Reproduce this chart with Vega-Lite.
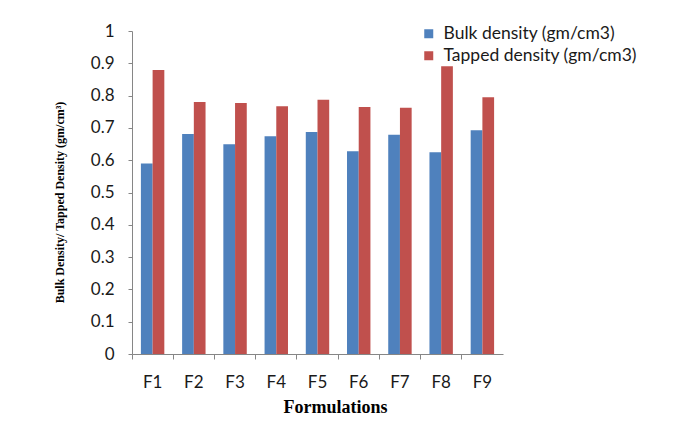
{
  "$schema": "https://vega.github.io/schema/vega-lite/v6.json",
  "width": 371,
  "height": 323,
  "autosize": {"type": "none"},
  "padding": {"left": 132, "top": 31, "right": 191, "bottom": 72},
  "background": "white",
  "data": {
    "values": [
      {"formulation": "F1", "series": "Bulk density (gm/cm3)", "value": 0.590},
      {"formulation": "F1", "series": "Tapped density (gm/cm3)", "value": 0.879},
      {"formulation": "F2", "series": "Bulk density (gm/cm3)", "value": 0.681},
      {"formulation": "F2", "series": "Tapped density (gm/cm3)", "value": 0.780},
      {"formulation": "F3", "series": "Bulk density (gm/cm3)", "value": 0.649},
      {"formulation": "F3", "series": "Tapped density (gm/cm3)", "value": 0.777},
      {"formulation": "F4", "series": "Bulk density (gm/cm3)", "value": 0.674},
      {"formulation": "F4", "series": "Tapped density (gm/cm3)", "value": 0.767},
      {"formulation": "F5", "series": "Bulk density (gm/cm3)", "value": 0.687},
      {"formulation": "F5", "series": "Tapped density (gm/cm3)", "value": 0.787},
      {"formulation": "F6", "series": "Bulk density (gm/cm3)", "value": 0.628},
      {"formulation": "F6", "series": "Tapped density (gm/cm3)", "value": 0.765},
      {"formulation": "F7", "series": "Bulk density (gm/cm3)", "value": 0.679},
      {"formulation": "F7", "series": "Tapped density (gm/cm3)", "value": 0.762},
      {"formulation": "F8", "series": "Bulk density (gm/cm3)", "value": 0.625},
      {"formulation": "F8", "series": "Tapped density (gm/cm3)", "value": 0.891},
      {"formulation": "F9", "series": "Bulk density (gm/cm3)", "value": 0.693},
      {"formulation": "F9", "series": "Tapped density (gm/cm3)", "value": 0.795}
    ]
  },
  "mark": {"type": "bar"},
  "encoding": {
    "x": {
      "field": "formulation",
      "type": "nominal",
      "sort": ["F1", "F2", "F3", "F4", "F5", "F6", "F7", "F8", "F9"],
      "scale": {"paddingInner": 0, "paddingOuter": 0},
      "axis": {
        "title": "Formulations",
        "titleFont": "Liberation Serif",
        "titleFontWeight": "bold",
        "titleFontSize": 18,
        "titleColor": "#000000",
        "titlePadding": 8,
        "titleX": 203,
        "labelAngle": 0,
        "labelFont": "Lato",
        "labelFontSize": 17,
        "labelColor": "#1a1a1a",
        "labelPadding": 15,
        "bandPosition": 0,
        "tickSize": 5,
        "tickColor": "#868686",
        "domainColor": "#868686",
        "grid": false
      }
    },
    "xOffset": {
      "field": "series",
      "type": "nominal",
      "sort": ["Bulk density (gm/cm3)", "Tapped density (gm/cm3)"],
      "scale": {"paddingInner": 0, "paddingOuter": 0.76}
    },
    "y": {
      "field": "value",
      "type": "quantitative",
      "scale": {"domain": [0, 1], "nice": false},
      "axis": {
        "title": "Bulk Density/ Tapped Density (gm/cm³)",
        "titleFont": "Liberation Serif",
        "titleFontWeight": "bold",
        "titleFontSize": 12,
        "titleColor": "#000000",
        "titlePadding": 24,
        "titleY": 171,
        "values": [0, 0.1, 0.2, 0.3, 0.4, 0.5, 0.6, 0.7, 0.8, 0.9, 1],
        "format": "~g",
        "labelFont": "Lato",
        "labelFontSize": 17,
        "labelColor": "#1a1a1a",
        "labelPadding": 14,
        "tickSize": 4,
        "tickColor": "#868686",
        "domainColor": "#868686",
        "grid": false
      }
    },
    "color": {
      "field": "series",
      "type": "nominal",
      "scale": {
        "domain": ["Bulk density (gm/cm3)", "Tapped density (gm/cm3)"],
        "range": ["#4F81BD", "#C0504D"]
      },
      "legend": {
        "orient": "none",
        "legendX": 288,
        "legendY": -6,
        "title": null,
        "symbolType": "square",
        "symbolSize": 81,
        "symbolStrokeWidth": 0,
        "labelFont": "Lato",
        "labelFontSize": 17.5,
        "labelColor": "#1a1a1a",
        "labelOffset": 6,
        "rowPadding": 3,
        "labelLimit": 300
      }
    }
  },
  "config": {"view": {"stroke": null}}
}
